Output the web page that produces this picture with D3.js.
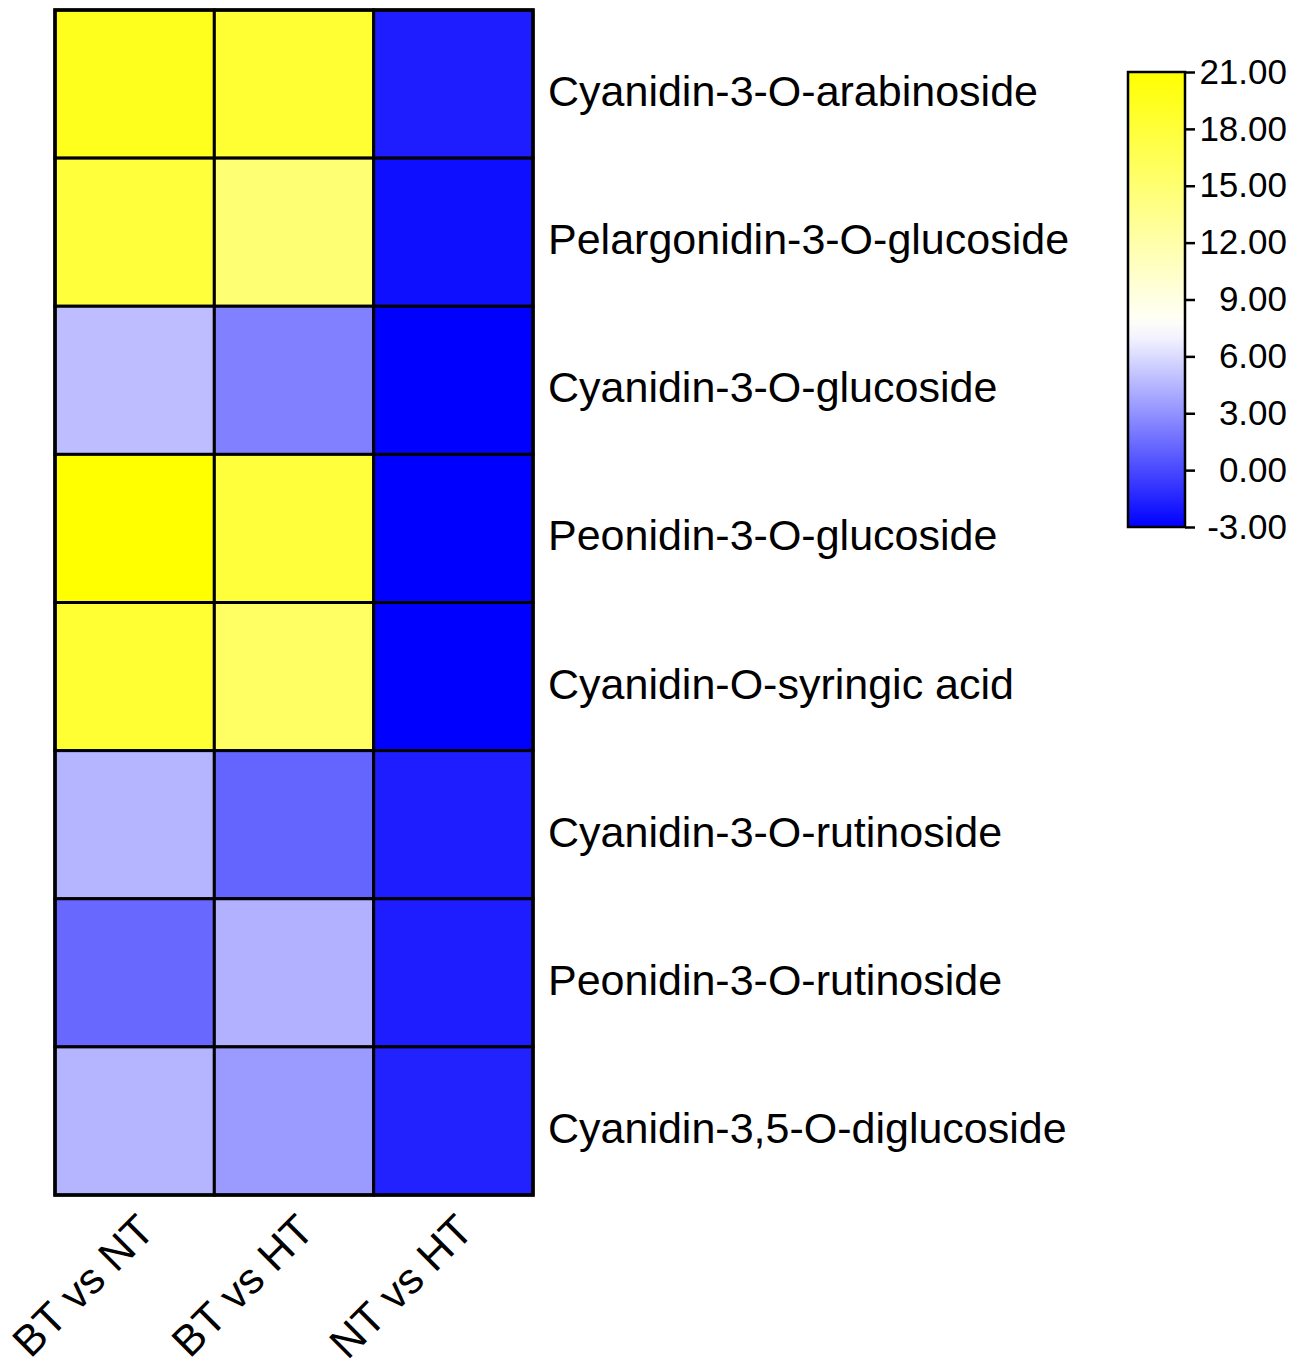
<!DOCTYPE html>
<html>
<head>
<meta charset="utf-8">
<script src="https://cdn.jsdelivr.net/npm/d3@7"></script>
<style>
  body { margin: 0; background: #fff; }
  text { font-family: "Liberation Sans", Arial, sans-serif; fill: #000; }
</style>
</head>
<body>
<div id="chart"></div>
<script>
// compounds (rows) and comparisons (columns)
var compounds = [
  "Cyanidin-3-O-arabinoside",
  "Pelargonidin-3-O-glucoside",
  "Cyanidin-3-O-glucoside",
  "Peonidin-3-O-glucoside",
  "Cyanidin-O-syringic acid",
  "Cyanidin-3-O-rutinoside",
  "Peonidin-3-O-rutinoside",
  "Cyanidin-3,5-O-diglucoside"
];
var comparisons = ["BT vs NT", "BT vs HT", "NT vs HT"];

var btVsNt = [19.4, 17.8, 4.8, 21.0, 18.3, 4.4, 1.3, 4.4];
var btVsHt = [18.3, 14.9, 2.3, 17.8, 15.7, 1.1, 4.3, 3.4];
var ntVsHt = [-1.8, -2.4, -3.0, -3.0, -3.0, -1.8, -1.8, -1.6];
var seriesValues = [btVsNt, btVsHt, ntVsHt];

var legendTicks = [-3, 0, 3, 6, 9, 12, 15, 18, 21];

var svgWidth = 1299;
var svgHeight = 1367;

var margin = { top: 10, left: 55 };
var heatWidth = 478;
var heatHeight = 1185;

var svg = d3.select("#chart")
  .append("svg")
  .attr("width", svgWidth)
  .attr("height", svgHeight);

var x = d3.scaleBand()
  .domain(comparisons)
  .range([margin.left, margin.left + heatWidth]);

var y = d3.scaleBand()
  .domain(compounds)
  .range([margin.top, margin.top + heatHeight]);

var color = d3.scaleLinear()
  .domain([-3, 7.5, 21])
  .range(["#0000ff", "#ffffff", "#ffff00"])
  .clamp(true);

// flatten into cells
var cells = [];
comparisons.forEach(function(c, i) {
  compounds.forEach(function(name, j) {
    cells.push({ comp: c, name: name, value: seriesValues[i][j] });
  });
});

svg.append("g")
  .selectAll("rect")
  .data(cells)
  .enter()
  .append("rect")
  .attr("x", d => x(d.comp))
  .attr("y", d => y(d.name))
  .attr("width", x.bandwidth())
  .attr("height", y.bandwidth())
  .attr("fill", d => color(d.value))
  .attr("stroke", "#000")
  .attr("stroke-width", 3);

// outer border
svg.append("rect")
  .attr("x", margin.left)
  .attr("y", margin.top)
  .attr("width", heatWidth)
  .attr("height", heatHeight)
  .attr("fill", "none")
  .attr("stroke", "#000")
  .attr("stroke-width", 3.5);

// row labels on the right
svg.append("g")
  .selectAll("text")
  .data(compounds)
  .enter()
  .append("text")
  .attr("x", margin.left + heatWidth + 15)
  .attr("y", d => y(d) + y.bandwidth() / 2 + 22)
  .attr("font-size", 43)
  .text(d => d);

// column labels, rotated
svg.append("g")
  .selectAll("text")
  .data(comparisons)
  .enter()
  .append("text")
  .attr("transform", d => `translate(${x(d) + x.bandwidth() / 2 + 22}, ${margin.top + heatHeight + 38}) rotate(-45)`)
  .attr("text-anchor", "end")
  .attr("font-size", 43)
  .text(d => d);

// colour legend
var legend = { x: 1128, y: 72, w: 57, h: 455 };

var defs = svg.append("defs");
var grad = defs.append("linearGradient")
  .attr("id", "legendGrad")
  .attr("x1", "0").attr("y1", "1")
  .attr("x2", "0").attr("y2", "0");

var stopVals = d3.range(0, 25);
grad.selectAll("stop")
  .data(stopVals)
  .enter()
  .append("stop")
  .attr("offset", d => (d / 24 * 100) + "%")
  .attr("stop-color", d => color(-3 + d));

svg.append("rect")
  .attr("x", legend.x)
  .attr("y", legend.y)
  .attr("width", legend.w)
  .attr("height", legend.h)
  .attr("fill", "url(#legendGrad)")
  .attr("stroke", "#000")
  .attr("stroke-width", 2.5);

var legendScale = d3.scaleLinear()
  .domain([-3, 21])
  .range([legend.y + legend.h, legend.y]);

var legendAxis = d3.axisRight(legendScale)
  .tickValues(legendTicks)
  .tickSize(10)
  .tickFormat(d => d.toFixed(2));

var axisG = svg.append("g")
  .attr("transform", `translate(${legend.x + legend.w}, 0)`)
  .call(legendAxis);

axisG.select(".domain").remove();
axisG.selectAll(".tick line")
  .attr("stroke", "#000")
  .attr("stroke-width", 2.5);
axisG.selectAll(".tick text")
  .attr("x", 102)
  .attr("text-anchor", "end")
  .attr("font-size", 35)
  .attr("font-family", "Liberation Sans, Arial, sans-serif")
  .attr("fill", "#000");
</script>
</body>
</html>
